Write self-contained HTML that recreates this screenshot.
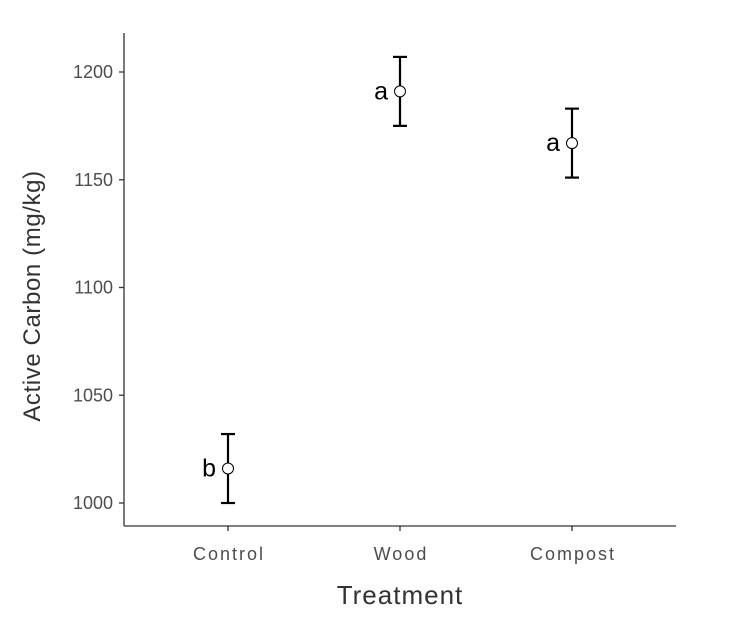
<!DOCTYPE html>
<html><head><meta charset="utf-8">
<style>
html,body{margin:0;padding:0;background:#fff;}
svg{display:block;font-family:"Liberation Sans",Arial,sans-serif;}
</style></head>
<body>
<svg id="chart" width="734" height="620" viewBox="0 0 734 620"></svg>
<script>
const categories = ["Control","Wood","Compost"];
const means = [1016,1191,1167];
const lower = [1000,1175,1151];
const upper = [1032,1207,1183];
const letters = ["b","a","a"];
const yTicks = [1000,1050,1100,1150,1200];

const svg = document.getElementById('chart');
const NS = "http://www.w3.org/2000/svg";
function yScale(v){ return 503 - (v-1000)*(431/200); }
function xScale(i){ return 228 + i*172; }
function mk(tag, attrs, parent){
  const e = document.createElementNS(NS, tag);
  for (const k in attrs) e.setAttribute(k, attrs[k]);
  (parent||svg).appendChild(e);
  return e;
}

const yAxis = mk('line',{x1:124,y1:33,x2:124,y2:526,stroke:'#333','stroke-width':1.3});


const xAxis = mk('line',{x1:124,y1:526,x2:676,y2:526,stroke:'#333','stroke-width':1.3});



yTicks.forEach(t=>{
  const y = yScale(t);
  const tk = mk('line',{x1:119,y1:y,x2:124,y2:y,stroke:'#333','stroke-width':1.3});
  
  
  const lb = mk('text',{x:113,y:y+6,'text-anchor':'end','font-size':18,fill:'#4d4d4d'});
  lb.textContent = t;
  
  
});

categories.forEach((c,i)=>{
  const x = xScale(i);
  const tk = mk('line',{x1:x,y1:526,x2:x,y2:531,stroke:'#333','stroke-width':1.3});
  
  
  const lb = mk('text',{x:x+1,y:560,'text-anchor':'middle','font-size':18,'letter-spacing':2,fill:'#4d4d4d'});
  lb.textContent = c;
  
  

  const g = mk('g',{});
  
  
  const yl = yScale(lower[i]), yu = yScale(upper[i]);
  mk('line',{x1:x,y1:yu,x2:x,y2:yl,stroke:'#000','stroke-width':2.2},g);
  mk('line',{x1:x-7,y1:yu,x2:x+7,y2:yu,stroke:'#000','stroke-width':2.2},g);
  mk('line',{x1:x-7,y1:yl,x2:x+7,y2:yl,stroke:'#000','stroke-width':2.2},g);

  const pt = mk('circle',{cx:x,cy:yScale(means[i]),r:5.5,fill:'#fff',stroke:'#000','stroke-width':1});
  
  

  const lt = mk('text',{x:x-12,y:yScale(means[i])+8,'text-anchor':'end','font-size':25,fill:'#000'});
  lt.textContent = letters[i];
  
  
});

const xt = mk('text',{x:400,y:604,'text-anchor':'middle','font-size':26,'letter-spacing':1,fill:'#333'});
xt.textContent = 'Treatment';


const yt = mk('text',{x:40,y:296,'text-anchor':'middle','font-size':24,'letter-spacing':0.6,fill:'#333',transform:'rotate(-90 40 296)'});
yt.textContent = 'Active Carbon (mg/kg)';


</script>
</body></html>
